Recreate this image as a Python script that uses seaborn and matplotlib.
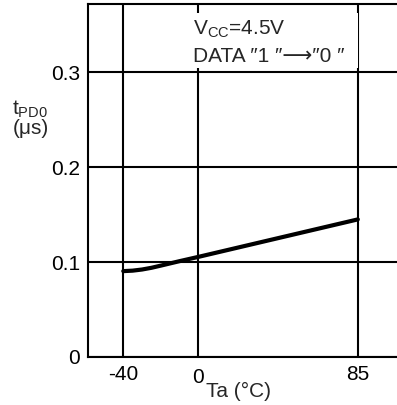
import matplotlib
matplotlib.use("Agg")
import matplotlib.pyplot as plt
import matplotlib.transforms as mtrans
from matplotlib.patches import Rectangle
import seaborn as sns
import pandas as pd

# data
ta = [-40, -35, -30, -25, -20, -10, 0, 20, 40, 60, 85]
tpd0 = [0.0905, 0.0910, 0.0922, 0.0940, 0.0963, 0.1010, 0.1055, 0.1148, 0.1241, 0.1334, 0.1450]
xticks = [-40, 0, 85]
xtick_labels = ["-40", "0", "85"]
yticks = [0, 0.1, 0.2, 0.3]
ytick_labels = ["0", "0.1", "0.2", "0.3"]

sns.set_style("white")
plt.rcParams['font.family'] = ['Liberation Sans', 'DejaVu Sans']
plt.rcParams['mathtext.fontset'] = 'custom'
plt.rcParams['mathtext.rm'] = 'Liberation Sans'
plt.rcParams['mathtext.it'] = 'Liberation Sans'

W, H = 397, 405
fig = plt.figure(figsize=(W/100, H/100), dpi=100)
ax = fig.add_axes([88/W, 1-357/H, 1-88/W + 0.01, (357-4)/H])

df = pd.DataFrame({"Ta": ta, "tPD0": tpd0})
sns.lineplot(data=df, x="Ta", y="tPD0", ax=ax, color="black", linewidth=3.0, zorder=3)

ax.set_xlim(-58.8, 108)
ax.set_ylim(0, 0.372)
ax.set_xticks(xticks)
ax.set_xticklabels(xtick_labels)
ax.set_yticks(yticks)
ax.set_yticklabels(ytick_labels)
ax.tick_params(axis='both', length=0, labelsize=15, colors='black')
ax.tick_params(axis='y', pad=5.5)
ax.tick_params(axis='x', pad=5.5)
ax.grid(True, color='black', linewidth=1.5)
ax.set_axisbelow(True)
for s in ['left', 'bottom', 'top']:
    ax.spines[s].set_color('black')
    ax.spines[s].set_linewidth(1.5)
ax.spines['right'].set_visible(False)

# shift the "0" x tick label slightly down as in the reference
lbl0 = ax.xaxis.get_major_ticks()[1].label1
lbl0.set_transform(lbl0.get_transform() + mtrans.ScaledTranslation(0, -3/100, fig.dpi_scale_trans))

ax.set_xlabel("")
ax.set_ylabel("")
fig.text(239/W, 1-391/H, "Ta (°C)", ha='center', va='center', fontsize=15)
fig.text(12/W, 1-115/H, r"t$_{\rm PD0}$", ha='left', va='baseline', fontsize=15)
fig.text(13/W, 1-128.5/H, "(μs)", ha='left', va='center', fontsize=15)

# white box behind the condition text
ax.add_patch(Rectangle(((190-88)/313, (357-68)/353), (358-190)/313, (68-13)/353,
                       transform=ax.transAxes, facecolor='white', edgecolor='none',
                       zorder=2.5, clip_on=False))
fig.text(193/W, 1-35/H, r"V$_{\rm CC}$=4.5V", ha='left', va='baseline', fontsize=15, zorder=5)
fig.text(193/W, 1-62/H, "DATA \u20331 \u2033\u27f6\u20330 \u2033", ha='left', va='baseline',
         fontsize=15, zorder=5)

fig.savefig("out.png", dpi=100)
